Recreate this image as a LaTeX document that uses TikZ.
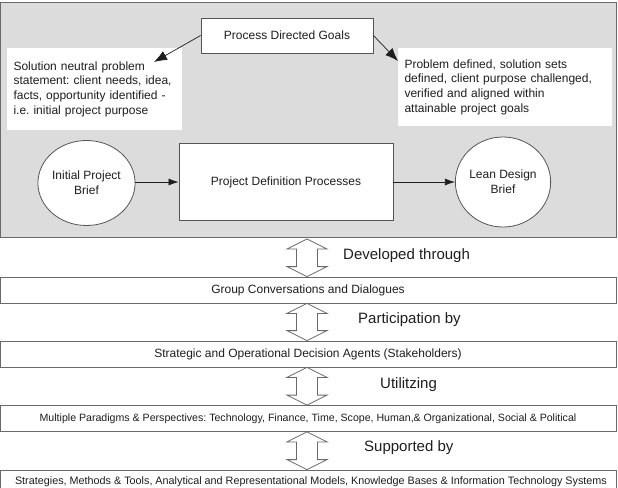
\documentclass[tikz,border=0pt]{standalone}
\usepackage{fontspec}
\setmainfont{Liberation Sans}
\usetikzlibrary{arrows.meta,shapes.geometric,calc}
\frenchspacing
\definecolor{bggray}{HTML}{DCDCDC}
\definecolor{edge}{HTML}{6A6A6A}
\definecolor{ink}{HTML}{1E1E1E}
\tikzset{
  base/.style={inner sep=0pt, text=ink, font=\fontsize{12}{14.7}\selectfont},
  bgbox/.style={base, draw=edge, fill=bggray, line width=0.9pt},
  wbox/.style={base, draw=edge!80!black, fill=white, line width=0.8pt},
  tbox/.style={base, fill=white, align=left, inner xsep=6.5pt},
  circ/.style={base, ellipse, draw=edge!80!black, fill=white, line width=0.8pt, align=center},
  band/.style={base, draw=edge, fill=white, line width=0.8pt, minimum width=616pt, minimum height=26pt},
  lbl/.style={base, anchor=west, font=\fontsize{15}{18}\selectfont},
  arr/.style={draw=ink, line width=0.7pt, -{Latex[length=10pt,width=7pt]}},
  darr/.style={draw=ink, line width=0.7pt, -{Latex[length=13pt,width=10pt]}},
  dbl/.style={draw=edge, fill=white, line width=0.8pt, line join=miter},
}
\newcommand\updown[2]{%
  \path[dbl] let \p1=(#1), \p2=(#2) in
   (\x1,\y1) -- (\x1+20pt,\y1-10pt) -- (\x1+10.5pt,\y1-10pt) -- (\x1+10.5pt,\y2+10pt)
   -- (\x1+20pt,\y2+10pt) -- (\x2,\y2) -- (\x1-20pt,\y2+10pt) -- (\x1-10.5pt,\y2+10pt)
   -- (\x1-10.5pt,\y1-10pt) -- (\x1-20pt,\y1-10pt) -- cycle;}
\begin{document}
\begin{tikzpicture}[x=1pt,y=-1pt]
\useasboundingbox (0,0) rectangle (618,487);
% upper panel
\node[bgbox, minimum width=615.5pt, minimum height=235pt] (bg) at (308.25,119.5) {};
\node[wbox, minimum width=172pt, minimum height=35pt] (pdg) at (287,35.5) {Process Directed Goals};
\node[tbox, text width=162pt, minimum height=82pt] (lt) at (94.5,89)
  {Solution neutral problem\\statement: client needs, idea,\\facts, opportunity identified -\\i.e. initial project purpose};
\node[tbox, text width=201pt, minimum height=78pt] (rt) at (505,87)
  {Problem defined, solution sets\\defined, client purpose challenged,\\verified and aligned within\\attainable project goals};
\node[circ, minimum width=89pt, minimum height=85pt] (ipb) at (86.5,183) {Initial Project\\Brief};
\node[wbox, minimum width=214pt, minimum height=77pt] (pdp) at (286,182) {Project Definition Processes};
\node[circ, minimum width=90pt, minimum height=90pt] (ldb) at (503,182) {Lean Design\\Brief};
\coordinate (ltin) at (154,62);
\coordinate (rtin) at (398,61);
\draw[darr] (pdg.west) -- (ltin);
\draw[darr] (pdg.east) -- (rtin);
\draw[arr] (ipb.east |- pdp.west) -- (pdp.west);
\draw[arr] (pdp.east) -- (ldb.west);
% lower bands
\node[band] (g) at (308,290) {Group Conversations and Dialogues};
\node[band] (s) at (308,354) {Strategic and Operational Decision Agents (Stakeholders)};
\node[band, font=\fontsize{10.6}{12}\selectfont] (m) at (308,418.5) {Multiple Paradigms \& Perspectives: Technology, Finance, Time, Scope, Human,\& Organizational, Social \& Political};
\node[band] (st) at (308,483) {};
\node[base, font=\fontsize{10.8}{12}\selectfont, anchor=base] (stt) at (311,484.5) {Strategies, Methods \& Tools, Analytical and Representational Models, Knowledge Bases \& Information Technology Systems};
% axis of the double arrows
\coordinate (ax) at (307,0);
\coordinate (a1t) at ($(bg.south -| ax)+(0,1.5)$);
\updown{a1t}{g.north -| ax}
\updown{g.south -| ax}{s.north -| ax}
\updown{s.south -| ax}{m.north -| ax}
\updown{m.south -| ax}{st.north -| ax}
\node[lbl] (l1) at (343,256) {Developed through};
\node[lbl] (l2) at (358,320) {Participation by};
\node[lbl] (l3) at (380,385) {Utilitzing};
\node[lbl] (l4) at (364,448) {Supported by};
\end{tikzpicture}
\end{document}
